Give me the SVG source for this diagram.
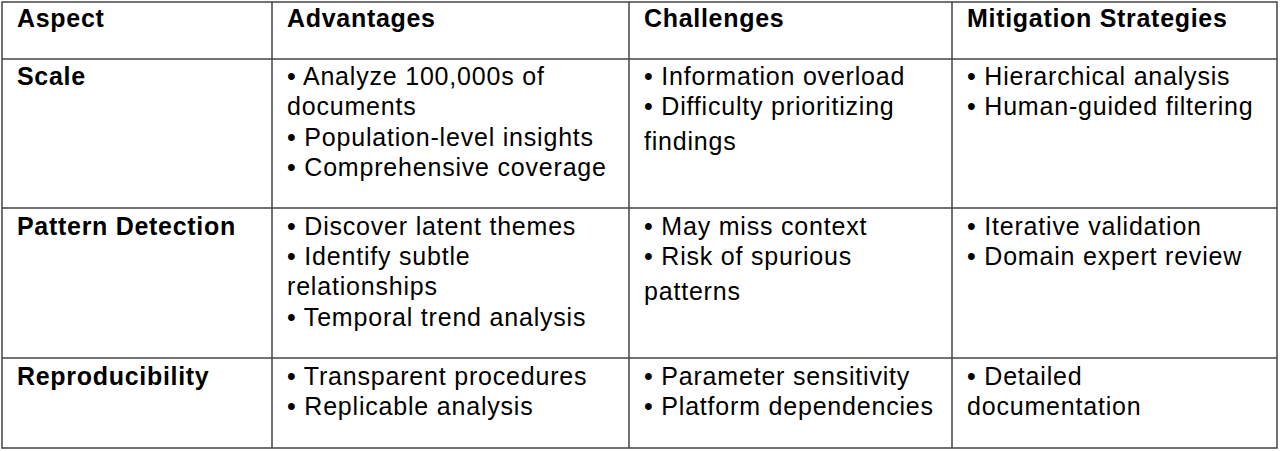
<svg xmlns="http://www.w3.org/2000/svg" width="1280" height="451" viewBox="0 0 1280 451">
<style>
text{font-family:"Liberation Sans",Arial,sans-serif;font-size:25px;letter-spacing:0.8px;fill:#000}
.b{font-weight:bold;letter-spacing:0.7px}
line{stroke:#444;stroke-width:1.5}
</style>
<rect width="1280" height="451" fill="#fff"/>
<g id="grid">
<rect x="2" y="2" width="1275" height="446" fill="none" stroke="#444" stroke-width="1.5"/>
<line x1="272" y1="2" x2="272" y2="448"/>
<line x1="629" y1="2" x2="629" y2="448"/>
<line x1="952" y1="2" x2="952" y2="448"/>
<line x1="2" y1="59" x2="1277" y2="59"/>
<line x1="2" y1="208" x2="1277" y2="208"/>
<line x1="2" y1="358" x2="1277" y2="358"/>
</g>
<g id="header">
<text class="b" x="17" y="27">Aspect</text>
<text class="b" x="287" y="27">Advantages</text>
<text class="b" x="644" y="27">Challenges</text>
<text class="b" x="967" y="27">Mitigation Strategies</text>
</g>
<g id="row-scale">
<text class="b" x="17" y="85">Scale</text>
<text x="287" y="85">• Analyze 100,000s of</text>
<text x="287" y="115">documents</text>
<text x="287" y="146">• Population-level insights</text>
<text x="287" y="176">• Comprehensive coverage</text>
<text x="644" y="85">• Information overload</text>
<text x="644" y="115">• Difficulty prioritizing</text>
<text x="644" y="150">findings</text>
<text x="967" y="85">• Hierarchical analysis</text>
<text x="967" y="115">• Human-guided filtering</text>
</g>
<g id="row-pattern">
<text class="b" x="17" y="235">Pattern Detection</text>
<text x="287" y="235">• Discover latent themes</text>
<text x="287" y="265">• Identify subtle</text>
<text x="287" y="295">relationships</text>
<text x="287" y="326">• Temporal trend analysis</text>
<text x="644" y="235">• May miss context</text>
<text x="644" y="265">• Risk of spurious</text>
<text x="644" y="300">patterns</text>
<text x="967" y="235">• Iterative validation</text>
<text x="967" y="265">• Domain expert review</text>
</g>
<g id="row-repro">
<text class="b" x="17" y="385">Reproducibility</text>
<text x="287" y="385">• Transparent procedures</text>
<text x="287" y="415">• Replicable analysis</text>
<text x="644" y="385">• Parameter sensitivity</text>
<text x="644" y="415">• Platform dependencies</text>
<text x="967" y="385">• Detailed</text>
<text x="967" y="415">documentation</text>
</g>
</svg>
